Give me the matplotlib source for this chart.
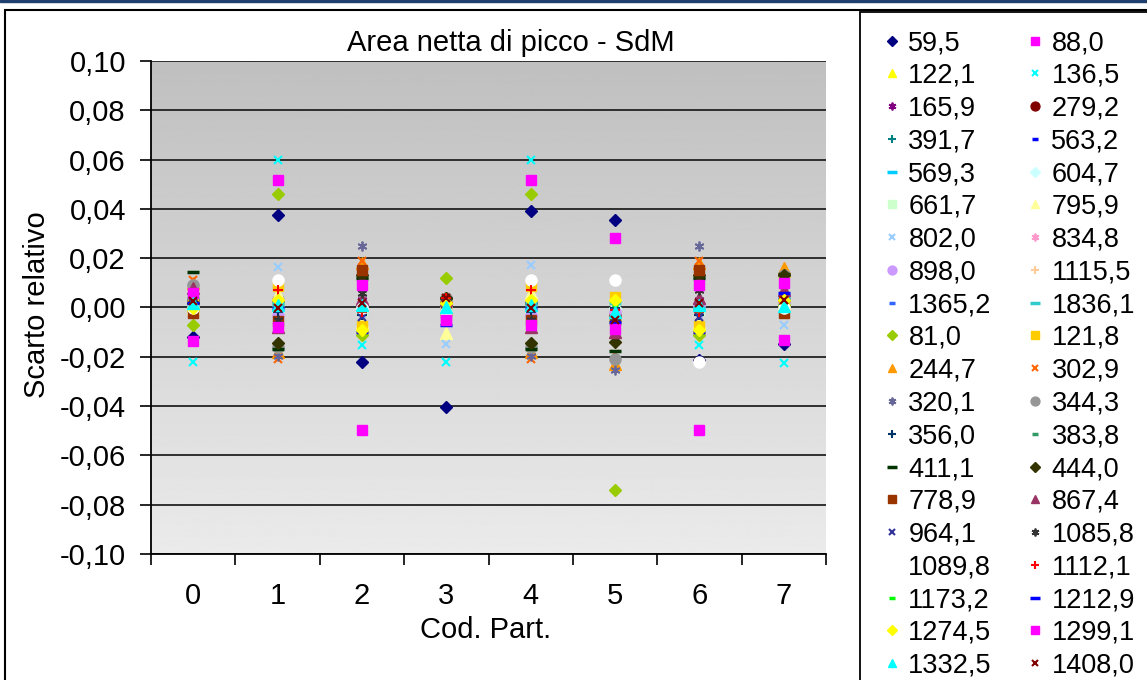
import numpy as np
import matplotlib
matplotlib.use("Agg")
import matplotlib.pyplot as plt
from matplotlib.patches import Rectangle

plt.rcParams['font.family'] = ['Liberation Sans', 'DejaVu Sans']

categories = [0, 1, 2, 3, 4, 5, 6, 7]

labels = ['59,5', '88,0', '122,1', '136,5', '165,9', '279,2', '391,7', '563,2',
          '569,3', '604,7', '661,7', '795,9', '802,0', '834,8', '898,0', '1115,5',
          '1365,2', '1836,1', '81,0', '121,8', '244,7', '302,9', '320,1', '344,3',
          '356,0', '383,8', '411,1', '444,0', '778,9', '867,4', '964,1', '1085,8',
          '1089,8', '1112,1', '1173,2', '1212,9', '1274,5', '1299,1', '1332,5', '1408,0']

# relative deviation per series, categories 0..7
values = [
    [-0.012, 0.0375, -0.022, -0.0403, 0.039, 0.0354, -0.0215, -0.015],    # 59,5
    [-0.0134, 0.0518, -0.0498, -0.004, 0.0518, 0.028, -0.0498, -0.0132],  # 88,0
    [0.001, 0.004, -0.008, 0.002, 0.004, -0.003, -0.008, 0.015],          # 122,1
    [-0.0223, 0.0597, -0.0153, -0.0223, 0.0597, -0.0015, -0.0153, -0.0224],  # 136,5
    [0.007, 0.002, 0.003, 0.003, 0.001, -0.004, 0.003, 0.004],            # 165,9
    [0.003, 0.003, 0.001, 0.002, 0.002, -0.003, 0.001, 0.003],            # 279,2
    [0.002, -0.001, -0.002, 0.001, -0.001, 0.001, -0.002, 0.002],         # 391,7
    [0.001, 0.000, -0.003, -0.006, 0.000, -0.006, -0.003, 0.002],         # 563,2
    [0.004, 0.002, 0.000, 0.001, 0.002, 0.002, 0.000, 0.004],             # 569,3
    [0.000, -0.002, 0.001, 0.000, -0.002, 0.000, 0.001, 0.001],           # 604,7
    [0.001, -0.001, -0.001, 0.000, -0.001, -0.002, -0.001, 0.000],        # 661,7
    [0.000, 0.0053, -0.006, -0.0103, 0.006, 0.004, -0.006, 0.002],        # 795,9
    [0.000, 0.0163, -0.002, -0.015, 0.0174, 0.001, -0.002, -0.0069],      # 802,0
    [0.008, -0.003, 0.002, -0.002, -0.003, -0.003, 0.002, 0.003],         # 834,8
    [0.009, -0.003, 0.001, 0.001, -0.003, -0.002, 0.001, 0.002],          # 898,0
    [0.002, 0.001, -0.001, 0.002, 0.001, 0.001, -0.001, 0.001],           # 1115,5
    [0.001, 0.002, -0.002, -0.001, 0.002, -0.001, -0.002, 0.002],         # 1365,2
    [0.001, 0.001, 0.000, 0.001, 0.001, 0.002, 0.000, 0.001],             # 1836,1
    [-0.0069, 0.046, -0.0113, 0.012, 0.046, -0.074, -0.0113, 0.001],      # 81,0
    [0.003, 0.0086, -0.0076, 0.002, 0.0086, 0.0043, -0.0076, 0.001],      # 121,8
    [0.010, -0.018, 0.018, 0.000, -0.018, -0.023, 0.018, 0.016],          # 244,7
    [0.0113, -0.021, 0.019, 0.000, -0.021, -0.019, 0.019, 0.005],         # 302,9
    [0.008, -0.0197, 0.0248, 0.004, -0.0197, -0.0255, 0.0248, 0.007],     # 320,1
    [0.009, -0.016, 0.012, 0.004, -0.016, -0.0207, 0.012, 0.013],         # 344,3
    [0.002, -0.002, -0.003, 0.001, -0.002, 0.000, -0.003, 0.001],         # 356,0
    [0.001, 0.000, -0.002, 0.000, 0.000, -0.001, -0.002, 0.001],          # 383,8
    [0.0143, -0.017, 0.012, 0.004, -0.017, -0.0177, 0.012, 0.0134],       # 411,1
    [0.002, -0.0142, 0.013, 0.004, -0.0142, -0.0138, 0.013, 0.013],       # 444,0
    [-0.0024, -0.0055, 0.0154, -0.002, -0.005, -0.0049, 0.0154, -0.0024], # 778,9
    [0.008, -0.008, 0.0036, 0.003, -0.008, -0.010, 0.004, 0.007],         # 867,4
    [0.002, 0.001, -0.004, 0.002, 0.001, -0.002, -0.004, 0.002],          # 964,1
    [0.003, -0.005, 0.006, 0.003, -0.005, -0.004, 0.007, 0.003],          # 1085,8
    [0.000, 0.011, 0.000, -0.002, 0.011, 0.011, -0.0223, 0.000],          # 1089,8
    [0.002, 0.0073, -0.002, 0.004, 0.007, -0.001, -0.002, 0.004],         # 1112,1
    [0.000, 0.001, -0.001, 0.000, 0.001, 0.001, -0.001, 0.000],           # 1173,2
    [0.002, 0.000, -0.010, -0.007, 0.000, -0.006, -0.010, 0.006],         # 1212,9
    [0.000, 0.003, -0.009, 0.002, 0.003, 0.003, -0.009, 0.003],           # 1274,5
    [0.006, -0.0081, 0.0093, -0.005, -0.0069, -0.0087, 0.0093, 0.010],    # 1299,1
    [0.002, 0.001, 0.001, 0.0004, 0.001, -0.002, 0.001, 0.0005],          # 1332,5
    [0.0025, 0.000, 0.002, 0.004, 0.000, -0.005, 0.002, 0.003],           # 1408,0
]

colors = ['#000080', '#FF00FF', '#FFFF00', '#00FFFF', '#800080', '#800000', '#008080', '#0000FF',
          '#00CCFF', '#CCFFFF', '#CCFFCC', '#FFFF99', '#99CCFF', '#FF99CC', '#CC99FF', '#FFCC99',
          '#3366FF', '#33CCCC', '#99CC00', '#FFCC00', '#FF9900', '#FF6600', '#666699', '#969696',
          '#003366', '#339966', '#003300', '#333300', '#993300', '#993366', '#333399', '#333333',
          '#FFFFFF', '#FF0000', '#00FF00', '#0000FF', '#FFFF00', '#FF00FF', '#00FFFF', '#800000']

# excel marker cycle: diamond, square, triangle, x, star, circle, plus, short dash, long dash
cycle = [('D', 6, 1.0), ('s', 7, 1.0), ('^', 8, 1.0), ('x', 6, 1.5), ((6, 2, 0), 7, 1.3),
         ('o', 8, 1.0), ('+', 7, 1.5), ('_', 5, 2.5), ('_', 9, 2.5)]

fig = plt.figure(figsize=(11.47, 6.8), dpi=100)
fig.patches.append(Rectangle((0, 0.997), 1, 0.003, transform=fig.transFigure,
                             color='#1F3F6F', zorder=0))
fig.patches.append(Rectangle((5 / 1147, -0.01), 1.1, 1 - 10 / 680 + 0.01, transform=fig.transFigure,
                             fill=False, edgecolor='black', lw=1.5, zorder=0))
# legend box (runs past the right and bottom edges, as in the source)
fig.patches.append(Rectangle((860 / 1147, -0.01), 0.5, 1 - 12 / 680 + 0.01, transform=fig.transFigure,
                             facecolor='white', edgecolor='black', lw=1.3, zorder=1))

ax = fig.add_axes([151 / 1147, 1 - 554 / 680, 675 / 1147, 493 / 680])
grad = np.linspace(0.75, 0.92, 256).reshape(-1, 1)
ax.imshow(grad, cmap='gray', vmin=0, vmax=1, aspect='auto', extent=[0, 1, 0, 1],
          transform=ax.transAxes, zorder=0)

handles = []
for i, (lab, vals, c) in enumerate(zip(labels, values, colors)):
    m, ms, mew = cycle[i % 9]
    h, = ax.plot(categories, vals, linestyle='none', marker=m, markersize=ms,
                 color=c, markeredgecolor=c, markeredgewidth=mew, label=lab, zorder=3)
    handles.append(h)

ax.set_xlim(-0.5, 7.5)
ax.set_ylim(-0.10, 0.10)
yt = np.arange(-0.10, 0.1001, 0.02)
ax.set_yticks(yt)
ax.set_yticklabels([('%.2f' % v).replace('.', ',').replace('-0,00', '0,00') for v in yt])
ax.set_xticks(np.arange(-0.5, 7.6, 1))
ax.set_xticklabels([])
ax.set_xticks(categories, minor=True)
ax.set_xticklabels([str(c) for c in categories], minor=True)
ax.tick_params(axis='x', which='major', direction='out', length=8, width=1.2, color='black')
ax.tick_params(axis='x', which='minor', length=0, pad=20, labelsize=21)
ax.tick_params(axis='y', direction='out', length=8, width=1.2, pad=10, labelsize=21)
ax.grid(True, axis='y', color='#222222', lw=1.3, zorder=1)
for s in ['top', 'right']:
    ax.spines[s].set_visible(False)
for s in ['left', 'bottom']:
    ax.spines[s].set_color('black')
    ax.spines[s].set_linewidth(1.3)

fig.text(511 / 1147, 1 - 43 / 680, 'Area netta di picco - SdM', ha='center', va='center', fontsize=21)
fig.text(37 / 1147, 1 - 305 / 680, 'Scarto relativo', ha='center', va='center',
         rotation=90, fontsize=21)
fig.text(486 / 1147, 1 - 630 / 680, 'Cod. Part.', ha='center', va='center', fontsize=21)

order = list(range(0, 40, 2)) + list(range(1, 40, 2))
leg = fig.legend([handles[k] for k in order], [labels[k] for k in order],
                 loc='upper left', bbox_to_anchor=(884 / 1147, 1 - 30 / 680), ncol=2,
                 fontsize=19.5, frameon=False,
                 handlelength=0.6, handletextpad=0.3, columnspacing=1.3,
                 labelspacing=0.25, borderpad=0, borderaxespad=0, markerscale=0.8)
leg.set_zorder(5)

fig.savefig('out.png', dpi=100)
